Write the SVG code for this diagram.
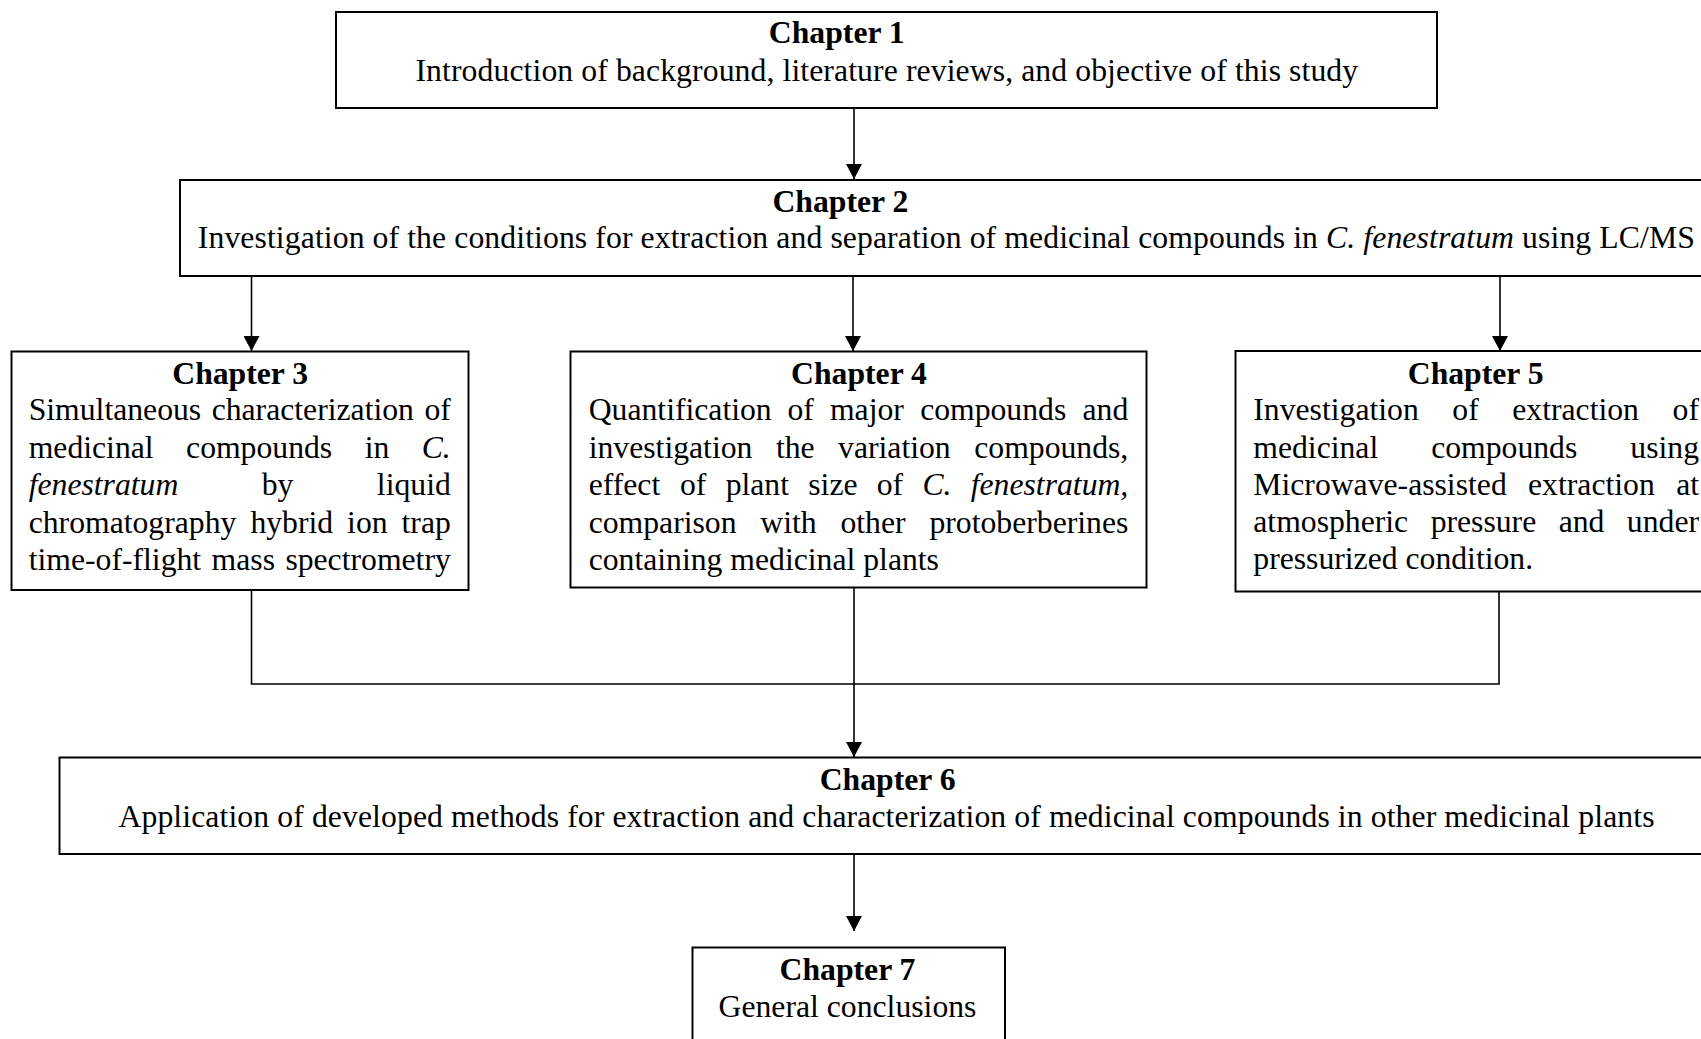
<svg xmlns="http://www.w3.org/2000/svg" width="1701" height="1039" viewBox="0 0 1701 1039">
<style>
  .box { fill: #ffffff; stroke: #000000; stroke-width: 2; }
  .t { font-family: "Liberation Serif", "Times New Roman", serif; font-size: 31.7px; fill: #000000; }
  .b { font-weight: bold; }
  .i { font-style: italic; }
  .m { text-anchor: middle; }
  .e { text-anchor: end; }
  .c { fill: none; stroke: #000000; stroke-width: 1.6; }
</style>
<defs>
  <marker id="arr" viewBox="0 0 15 16" refX="15" refY="8" markerWidth="15" markerHeight="16" markerUnits="userSpaceOnUse" orient="auto">
    <path d="M0,0 L15,8 L0,16 z" fill="#000000"/>
  </marker>
</defs>
<rect width="1701" height="1039" fill="#ffffff"/>

<g id="connectors">
  <line class="c" x1="854" y1="108" x2="854" y2="179" marker-end="url(#arr)"/>
  <line class="c" x1="251.5" y1="276" x2="251.5" y2="351" marker-end="url(#arr)"/>
  <line class="c" x1="853" y1="276" x2="853" y2="351" marker-end="url(#arr)"/>
  <line class="c" x1="1500" y1="276" x2="1500" y2="351" marker-end="url(#arr)"/>
  <polyline class="c" points="251.5,590 251.5,684 1499,684 1499,592"/>
  <line class="c" x1="854" y1="588" x2="854" y2="757" marker-end="url(#arr)"/>
  <line class="c" x1="854" y1="854" x2="854" y2="931" marker-end="url(#arr)"/>
</g>

<g id="ch1">
  <rect class="box" x="336" y="12" width="1101" height="96"/>
  <text class="t b m" x="836.8" y="43.3">Chapter 1</text>
  <text class="t m" x="886.8" y="81" textLength="942.7" lengthAdjust="spacing">Introduction of background, literature reviews, and objective of this study</text>
</g>

<g id="ch2">
  <rect class="box" x="180" y="180" width="1533" height="96"/>
  <text class="t b m" x="840.4" y="211.7">Chapter 2</text>
  <text class="t" x="197.8" y="248.3" textLength="1497" lengthAdjust="spacing">Investigation of the conditions for extraction and separation of medicinal compounds in <tspan class="i">C. fenestratum</tspan> using LC/MS</text>
</g>

<g id="ch3">
  <rect class="box" x="11.5" y="351.5" width="457" height="238.5"/>
  <text class="t b m" x="240.2" y="384.3">Chapter 3</text>
  <text class="t" y="420"><tspan x="28.7">Simultaneous</tspan><tspan x="211.65">characterization</tspan><tspan x="450.8" text-anchor="end">of</tspan></text>
  <text class="t" y="457.7"><tspan x="28.7">medicinal</tspan><tspan x="186.07">compounds</tspan><tspan x="364.64">in</tspan><tspan x="450.8" text-anchor="end" class="i">C.</tspan></text>
  <text class="t" y="495"><tspan x="28.7" class="i">fenestratum</tspan><tspan x="261.75">by</tspan><tspan x="450.8" text-anchor="end">liquid</tspan></text>
  <text class="t" y="532.7"><tspan x="28.7">chromatography</tspan><tspan x="250.4">hybrid</tspan><tspan x="347.1">ion</tspan><tspan x="450.8" text-anchor="end">trap</tspan></text>
  <text class="t" y="570"><tspan x="28.7">time-of-flight</tspan><tspan x="211.6">mass</tspan><tspan x="450.8" text-anchor="end">spectrometry</tspan></text>
</g>

<g id="ch4">
  <rect class="box" x="570.5" y="351.5" width="576" height="236"/>
  <text class="t b m" x="859" y="384.3">Chapter 4</text>
  <text class="t" y="420"><tspan x="588.7">Quantification</tspan><tspan x="787.38">of</tspan><tspan x="829.96">major</tspan><tspan x="920.14">compounds</tspan><tspan x="1128.3" text-anchor="end">and</tspan></text>
  <text class="t" y="457.7"><tspan x="588.7">investigation</tspan><tspan x="775.93">the</tspan><tspan x="838.06">variation</tspan><tspan x="1128.3" text-anchor="end">compounds,</tspan></text>
  <text class="t" y="495"><tspan x="588.7">effect</tspan><tspan x="680.02">of</tspan><tspan x="725.64">plant</tspan><tspan x="808.26">size</tspan><tspan x="876.78">of</tspan><tspan x="922.4" class="i">C.</tspan><tspan x="1128.3" text-anchor="end" class="i">fenestratum,</tspan></text>
  <text class="t" y="532.7"><tspan x="588.7">comparison</tspan><tspan x="760.33">with</tspan><tspan x="840.46">other</tspan><tspan x="1128.3" text-anchor="end">protoberberines</tspan></text>
  <text class="t" x="588.7" y="570">containing medicinal plants</text>
</g>

<g id="ch5">
  <rect class="box" x="1235.5" y="351" width="481" height="240.5"/>
  <text class="t b m" x="1475.7" y="384.3">Chapter 5</text>
  <text class="t" y="420"><tspan x="1253.3">Investigation</tspan><tspan x="1452.33">of</tspan><tspan x="1512.26">extraction</tspan><tspan x="1699" text-anchor="end">of</tspan></text>
  <text class="t" y="457.7"><tspan x="1253.3">medicinal</tspan><tspan x="1431.2">compounds</tspan><tspan x="1699" text-anchor="end">using</tspan></text>
  <text class="t" y="495"><tspan x="1253.3">Microwave-assisted</tspan><tspan x="1528.05">extraction</tspan><tspan x="1699" text-anchor="end">at</tspan></text>
  <text class="t" y="531.7"><tspan x="1253.3">atmospheric</tspan><tspan x="1430.67">pressure</tspan><tspan x="1558.64">and</tspan><tspan x="1699" text-anchor="end">under</tspan></text>
  <text class="t" x="1253.3" y="569.3">pressurized condition.</text>
</g>

<g id="ch6">
  <rect class="box" x="59.5" y="757.5" width="1654" height="96.5"/>
  <text class="t b m" x="887.6" y="790">Chapter 6</text>
  <text class="t m" x="886.5" y="826.7" textLength="1536" lengthAdjust="spacing">Application of developed methods for extraction and characterization of medicinal compounds in other medicinal plants</text>
</g>

<g id="ch7">
  <rect class="box" x="692.5" y="947.5" width="312.5" height="100"/>
  <text class="t b m" x="847.5" y="980">Chapter 7</text>
  <text class="t m" x="847.5" y="1016.7">General conclusions</text>
</g>
</svg>
